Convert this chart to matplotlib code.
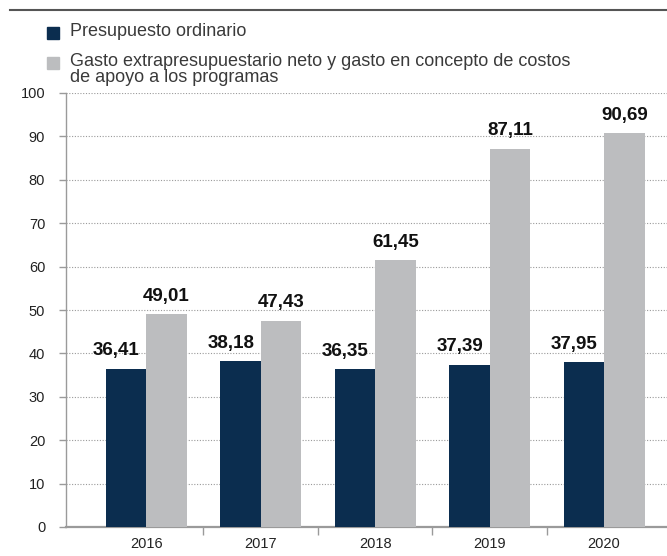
import matplotlib.pyplot as plt
from matplotlib.patches import Rectangle
from matplotlib.lines import Line2D

plt.rcParams['font.family'] = ['Liberation Sans', 'DejaVu Sans']

anos = ['2016', '2017', '2018', '2019', '2020']
ordinario = [36.41, 38.18, 36.35, 37.39, 37.95]
extra = [49.01, 47.43, 61.45, 87.11, 90.69]

nombres = ['Presupuesto ordinario',
           'Gasto extrapresupuestario neto y gasto en concepto de costos\nde apoyo a los programas']

azul = '#0b2d4f'
gris = '#bcbdbf'

fig = plt.figure(figsize=(6.67, 5.56), dpi=100)
ax = fig.add_axes([66/667, 1 - 527/556, 1 - 66/667, 434/556])

x = list(range(len(anos)))
w = 0.354
ax.bar([i - w/2 for i in x], ordinario, w, color=azul, zorder=3)
ax.bar([i + w/2 for i in x], extra, w, color=gris, zorder=3)

# etiquetas con el valor de cada barra
for i in x:
    ax.annotate(f'{ordinario[i]:.2f}'.replace('.', ','), (i - w/2, ordinario[i]),
                xytext=(-7, 7), textcoords='offset points', ha='center', va='bottom',
                fontsize=13.5, fontweight='bold', color='#111111')
    ax.annotate(f'{extra[i]:.2f}'.replace('.', ','), (i + w/2, extra[i]),
                xytext=(0, 7), textcoords='offset points', ha='center', va='bottom',
                fontsize=13.5, fontweight='bold', color='#111111')

ax.set_xlim(-0.70, 4.55)
ax.set_ylim(0, 100)
ax.set_yticks(range(0, 101, 10))
ax.yaxis.grid(True, linestyle=(0, (1, 1.5)), color='#9a9a9a', linewidth=0.8, zorder=0)

ax.set_xticks(x)
ax.set_xticklabels(anos)
ax.set_xticks([0.5, 1.5, 2.5, 3.5], minor=True)
ax.tick_params(axis='x', which='major', length=0, pad=7, labelsize=10.5, labelcolor='#222222')
ax.tick_params(axis='x', which='minor', length=6, width=1, color='#9a9a9a')
ax.tick_params(axis='y', length=5, width=1, color='#9a9a9a', labelsize=10.5, labelcolor='#222222', pad=10)

for s in ['top', 'right']:
    ax.spines[s].set_visible(False)
ax.spines['left'].set_color('#9a9a9a')
ax.spines['left'].set_linewidth(1)
ax.spines['bottom'].set_color('#9a9a9a')
ax.spines['bottom'].set_linewidth(1.6)

# linea superior
fig.add_artist(Line2D([10/667, 1], [1 - 10/556, 1 - 10/556], color='#555555', linewidth=1.5))

# leyenda
colores = [azul, gris]
filas = [33, 63]
for c, nombre, yy in zip(colores, nombres, filas):
    fig.add_artist(Rectangle((47/667, 1 - (yy + 6)/556), 12/667, 12/556,
                             transform=fig.transFigure, color=c))
    fig.text(70/667, 1 - (yy - 10)/556, nombre, fontsize=13, color='#3a3a3a',
             va='top', ha='left', linespacing=0.95)

fig.savefig('out.png', dpi=100)
